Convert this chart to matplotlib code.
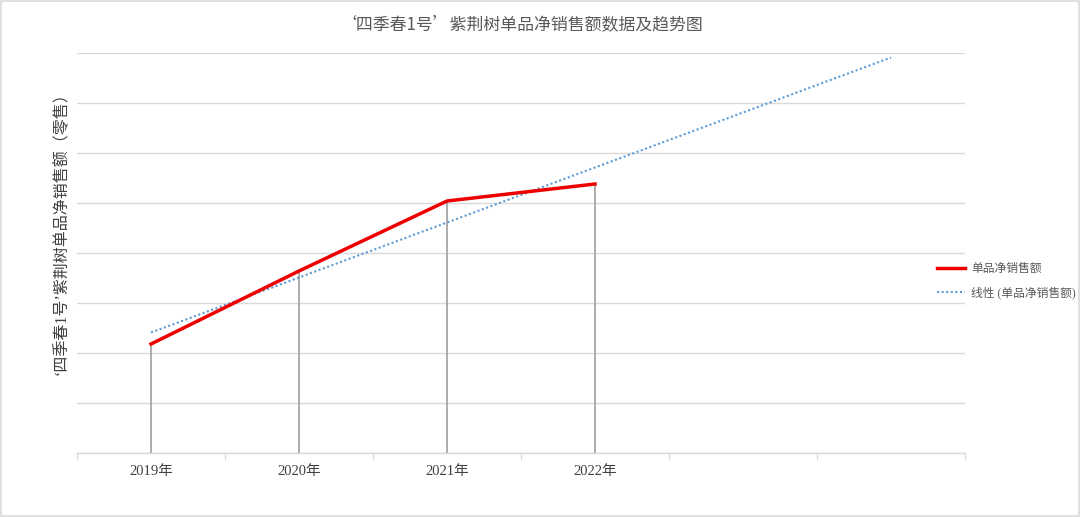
import numpy as np
import matplotlib
matplotlib.use("Agg")
import matplotlib.pyplot as plt
from matplotlib.patches import Rectangle

categories = ["2019年", "2020年", "2021年", "2022年"]
sales = [2.18, 3.64, 5.04, 5.38]
n_slots = 6
forecast_forward = 2
title = "‘四季春1号’紫荆树单品净销售额数据及趋势图"
ylabel = "‘四季春1号’紫荆树单品净销售额（零售）"
series_name = "单品净销售额"
trend_name = "线性 (单品净销售额)"

CJK = ["Noto Sans CJK SC", "DejaVu Sans"]
SERIF = ["Liberation Serif", "Noto Sans CJK SC"]

fig = plt.figure(figsize=(10.8, 5.17), dpi=100)
ax = fig.add_axes([77/1080, 64/517, 888/1080, 400/517])

x = np.arange(len(categories))
ax.set_ylim(0, 8)
ax.set_xlim(-0.5, n_slots - 0.5)
ax.set_yticks(np.arange(0, 9, 1))
ax.yaxis.grid(True, color="#d9d9d9", linewidth=1)
ax.tick_params(axis="y", length=0, labelleft=False)
ax.set_axisbelow(True)

# drop lines
ax.vlines(x, 0, sales, colors="#a6a6a6", linewidth=1.3, zorder=2)
# series
l1, = ax.plot(x, sales, color="#ee0000", linewidth=2.5, zorder=4, label=series_name)
# linear trend (Excel-style, x = 1..n), forecast forward 2 periods
coef = np.polyfit(x + 1, sales, 1)
xt = np.arange(len(categories) + forecast_forward)
l2, = ax.plot(xt, np.polyval(coef, xt + 1), color="#5b9bd5", linewidth=1.5,
              linestyle=(0, (1, 1.2)), zorder=3, label=trend_name)

for s in ["top", "right", "left"]:
    ax.spines[s].set_visible(False)
ax.spines["bottom"].set_color("#d9d9d9")
ax.spines["bottom"].set_linewidth(1)

ax.set_xticks(np.arange(-0.5, n_slots, 1))
ax.set_xticklabels([])
ax.tick_params(axis="x", which="major", length=5, color="#d9d9d9", direction="out")
ax.set_xticks(x, minor=True)
ax.set_xticklabels(categories, minor=True, fontfamily=SERIF, fontsize=10.5, color="#404040")
ax.tick_params(axis="x", which="minor", length=0, pad=9)

fig.text(62/1080, 1 - 230/517, ylabel, rotation=90, ha="center", va="center",
         fontfamily=SERIF, fontsize=11.5, color="#404040")

fig.text(521/1080, 1 - 24/517, title, ha="center", va="center", fontfamily=CJK,
         fontsize=12.2, color="#595959")

leg = fig.legend(handles=[l1, l2], loc="upper left", bbox_to_anchor=(932/1080, 1 - 258/517),
                 frameon=False, prop={"family": SERIF, "size": 8.5}, labelcolor="#595959",
                 handlelength=2.4, handletextpad=0.5, labelspacing=1.0, borderaxespad=0)

fig.patches.append(Rectangle((0.001, 0.002), 0.998, 0.996, transform=fig.transFigure,
                             fill=False, edgecolor="#d9d9d9", linewidth=1.2))

fig.savefig("out.png", dpi=100, facecolor="white")
